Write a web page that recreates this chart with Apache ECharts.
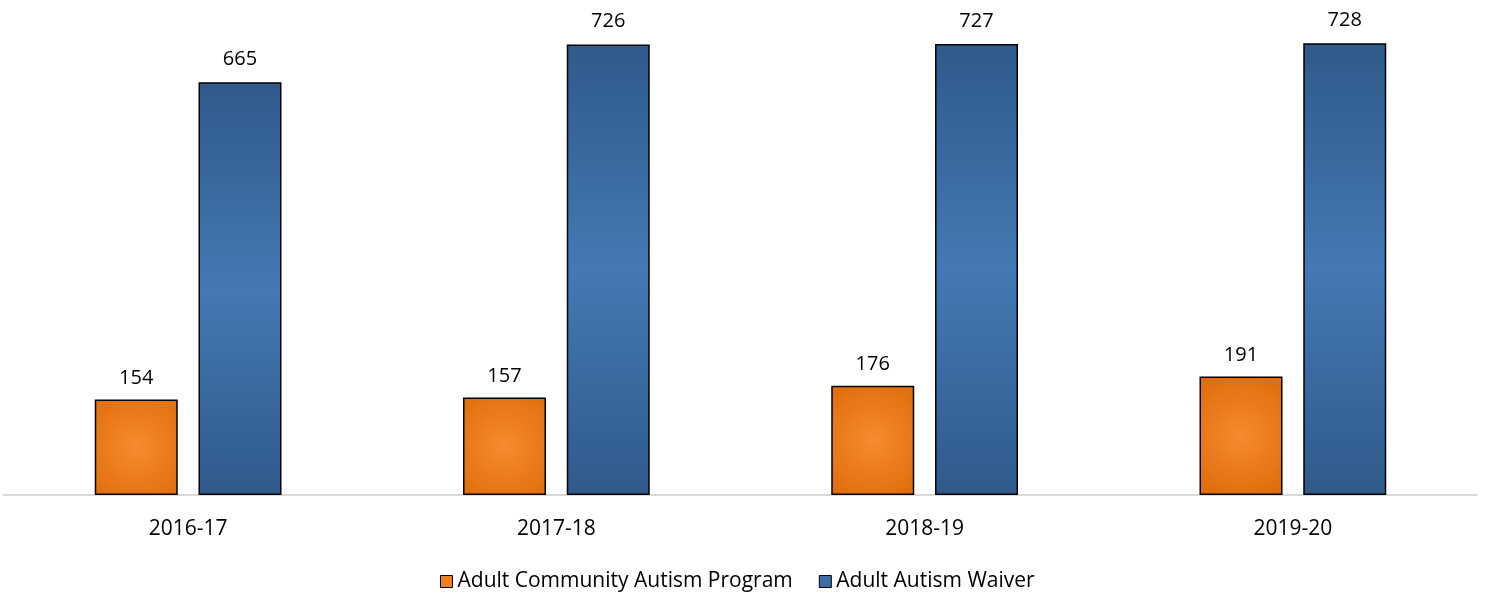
<!DOCTYPE html>
<html><head><meta charset="utf-8">
<script src="https://cdn.jsdelivr.net/npm/echarts@6/dist/echarts.min.js"></script>
<style>html,body{margin:0;padding:0;background:#fff}#c{width:1485px;height:597px}</style>
</head><body><div id="c"></div>
<script>
const categories = ['2016-17','2017-18','2018-19','2019-20'];
const acapValues = [154,157,176,191];
const waiverValues = [665,726,727,728];
const seriesNames = ['Adult Community Autism Program','Adult Autism Waiver'];

const FONT = '"Open Sans", sans-serif';
const orangeFill = {type:'radial', x:0.5, y:0.5, r:0.75, colorStops:[{offset:0,color:'#F68B2F'},{offset:1,color:'#E06E0D'}]};
const blueFill = {type:'linear', x:0, y:0, x2:0, y2:1, colorStops:[{offset:0,color:'#2F5A8B'},{offset:0.5,color:'#4578B4'},{offset:1,color:'#2F5A8B'}]};

const chart = echarts.init(document.getElementById('c'), null, {renderer:'canvas'});
chart.setOption({
  animation:false,
  textStyle:{fontFamily:FONT},
  grid:{left:4, right:8, top:11, bottom:102, containLabel:false},
  legend:{
    bottom:0, left:435, itemWidth:12, itemHeight:12, itemGap:26,
    textStyle:{fontFamily:FONT, fontSize:21, color:'#000'},
    data:[
      {name:seriesNames[0], icon:'rect', itemStyle:{color:'#F07F1E', borderColor:'#000', borderWidth:1}},
      {name:seriesNames[1], icon:'rect', itemStyle:{color:'#3E6DA6', borderColor:'#000', borderWidth:1}}
    ]
  },
  xAxis:{
    type:'category', data:categories,
    axisLine:{lineStyle:{color:'#D9D9D9', width:2}},
    axisTick:{show:false},
    axisLabel:{fontFamily:FONT, fontSize:21, color:'#000', margin:24}
  },
  yAxis:{type:'value', min:0, max:780, show:false, splitLine:{show:false}},
  series:[
    {name:seriesNames[0], type:'bar', data:acapValues, barWidth:83, barGap:'25%',
     itemStyle:{color:orangeFill, borderColor:'#000', borderWidth:1.5},
     label:{show:true, position:'top', distance:11, fontFamily:FONT, fontSize:20, color:'#000'}},
    {name:seriesNames[1], type:'bar', data:waiverValues, barWidth:83,
     itemStyle:{color:blueFill, borderColor:'#000', borderWidth:1.5},
     label:{show:true, position:'top', distance:13, fontFamily:FONT, fontSize:20, color:'#000'}}
  ]
});
</script></body></html>
